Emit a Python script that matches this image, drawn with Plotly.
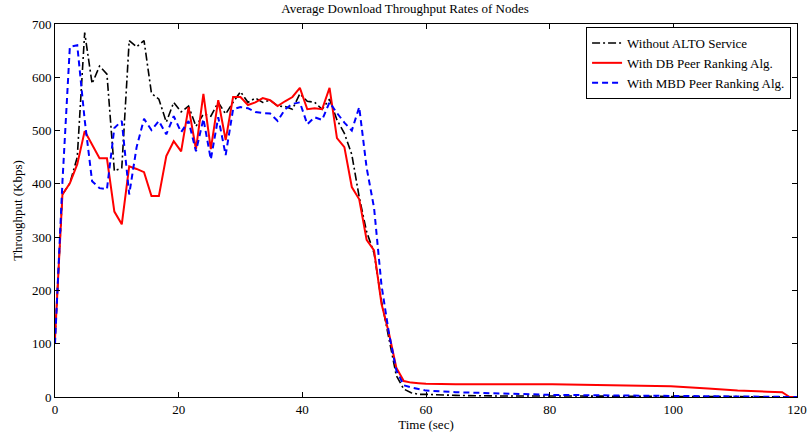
import plotly.graph_objects as go

TIME = [0, 1.2, 2.4, 3.6, 4.8, 6.0, 7.2, 8.4, 9.6, 10.8,
        12.0, 13.2, 14.4, 15.6, 16.8, 18.0, 19.2, 20.4, 21.6, 22.8,
        24.0, 25.2, 26.4, 27.6, 28.8, 30.0, 31.2, 32.4, 33.6, 34.8,
        36.0, 37.2, 38.4, 39.6, 40.8, 42.0, 43.2, 44.4, 45.6, 46.8,
        48.0, 49.2, 50.4, 51.6, 52.8, 54.0, 55.2, 56.4, 57.6, 58.8,
        60.0, 64.8, 70.8, 80.4, 90.0, 99.6, 105.6, 110.4, 115.2, 117.6,
        118.8, 120.0]

WITHOUT_ALTO = [110, 380, 401, 450, 684, 588, 621, 606, 424, 430,
                669, 657, 669, 570, 559, 516, 553, 535, 546, 508,
                531, 527, 553, 531, 553, 573, 553, 561, 553, 557,
                546, 545, 540, 569, 555, 553, 540, 559, 520, 495,
                455, 375, 310, 270, 180, 110, 40, 15, 8, 5,
                5, 3, 2, 2, 1, 1, 1, 1, 1, 1,
                0, 0]

DB_RANKING = [110, 380, 401, 437, 499, 474, 448, 448, 348, 324,
              433, 428, 422, 377, 377, 452, 480, 461, 544, 465,
              569, 465, 557, 482, 563, 563, 548, 553, 561, 557,
              546, 555, 563, 580, 540, 542, 540, 580, 486, 469,
              394, 371, 295, 275, 175, 120, 55, 30, 27, 26,
              25, 24, 24, 24, 22, 20, 16, 12, 10, 9,
              0, 0]

MBD_RANKING = [100, 403, 657, 660, 520, 405, 392, 390, 505, 518,
               380, 469, 522, 501, 518, 493, 527, 497, 518, 461,
               522, 446, 525, 454, 540, 544, 542, 535, 533, 532,
               518, 540, 550, 553, 512, 525, 520, 553, 533, 515,
               500, 544, 430, 355, 210, 120, 50, 22, 18, 15,
               12, 9, 7, 4, 3, 2, 2, 2, 1, 1,
               0, 0]

X_TICKS = [0, 20, 40, 60, 80, 100, 120]
Y_TICKS = [0, 100, 200, 300, 400, 500, 600, 700]

FONT = "Liberation Serif"

fig = go.Figure()
fig.add_trace(go.Scatter(x=TIME, y=WITHOUT_ALTO, mode="lines",
                         name="Without ALTO Service",
                         line=dict(color="black", width=1.6, dash="8px,3px,2px,3px")))
fig.add_trace(go.Scatter(x=TIME, y=DB_RANKING, mode="lines",
                         name="With DB Peer Ranking Alg.",
                         line=dict(color="red", width=2)))
fig.add_trace(go.Scatter(x=TIME, y=MBD_RANKING, mode="lines",
                         name="With MBD Peer Ranking Alg.",
                         line=dict(color="blue", width=2, dash="6px,4px")))

axis_common = dict(showline=True, linecolor="black", linewidth=1, mirror="ticks",
                   ticks="inside", ticklen=5, tickcolor="black", showgrid=False,
                   zeroline=False, automargin=False,
                   tickfont=dict(family=FONT, size=13, color="black"))

fig.update_layout(
    width=810, height=436,
    margin=dict(l=55, r=13, t=24, b=39),
    paper_bgcolor="white", plot_bgcolor="white",
    font=dict(family=FONT, size=13, color="black"),
    title=dict(text="Average Download Throughput Rates of Nodes",
               x=0.5, xanchor="center", y=0.99, yanchor="top",
               font=dict(family=FONT, size=13, color="black")),
    xaxis=dict(range=[0, 120], tickvals=X_TICKS,
               title=dict(text="Time (sec)", standoff=0,
                          font=dict(family=FONT, size=13)),
               **axis_common),
    yaxis=dict(range=[0, 700], tickvals=Y_TICKS,
               title=dict(text="Throughput (Kbps)", standoff=6,
                          font=dict(family=FONT, size=13)),
               **axis_common),
    legend=dict(x=0.992, y=0.992, xanchor="right", yanchor="top",
                bgcolor="white", bordercolor="black", borderwidth=1,
                font=dict(family=FONT, size=13, color="black"),
                itemwidth=30, tracegroupgap=0),
    showlegend=True,
)

fig.write_html("out.html")
